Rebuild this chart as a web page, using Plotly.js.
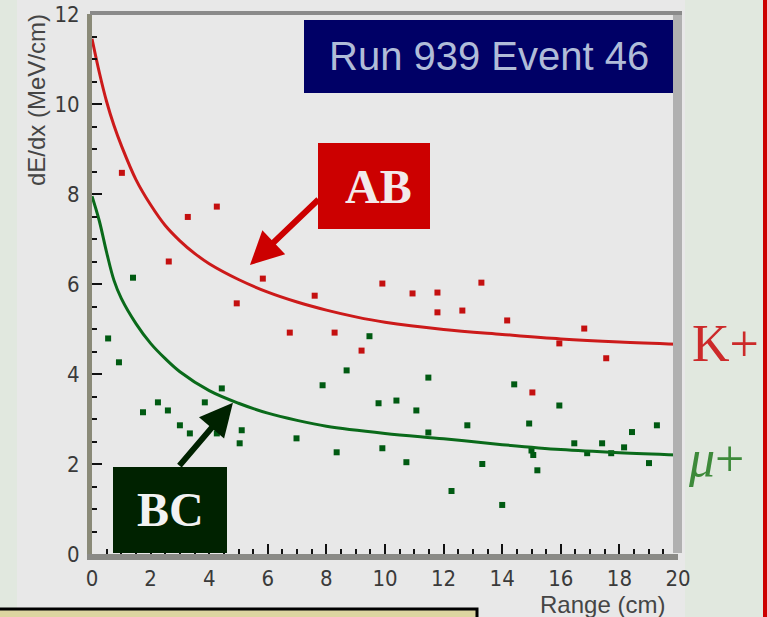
<!DOCTYPE html>
<html>
<head>
<meta charset="utf-8">
<script src="https://cdn.plot.ly/plotly-3.0.1.min.js"></script>
<style>
  html, body { margin: 0; padding: 0; background: #e8e8e8; overflow: hidden; }
  #chart { width: 767px; height: 617px; }
  #chart .xtick text, #chart .ytick text { font-stretch: condensed; }
</style>
</head>
<body>
<div id="chart"></div>
<script>
// Hits attributed to the K+ track: range (cm) and dE/dx (MeV/cm)
const kRange = [1.02, 2.62, 3.27, 4.26, 4.94, 5.83, 6.75, 7.6, 8.28, 9.2, 9.91, 10.94, 11.79, 11.79, 12.64, 13.29, 14.17, 15.03, 15.95, 16.8, 17.55];
const kDedx  = [8.47, 6.5, 7.49, 7.72, 5.57, 6.12, 4.92, 5.74, 4.92, 4.52, 6.01, 5.79, 5.81, 5.37, 5.41, 6.03, 5.19, 3.59, 4.68, 5.01, 4.35];

// Hits attributed to the mu+ track
const muRange = [0.55, 0.92, 1.4, 1.74, 2.25, 2.59, 3.0, 3.34, 3.85, 4.26, 4.43, 5.04, 5.11, 6.98, 7.87, 8.35, 8.69, 9.47, 9.78, 9.91, 10.39, 10.73, 11.07, 11.48, 11.48, 12.27, 12.81, 13.32, 14.0, 14.41, 14.92, 15.0, 15.06, 15.2, 15.95, 16.46, 16.9, 17.41, 17.72, 18.16, 18.43, 19.01, 19.28];
const muDedx  = [4.79, 4.26, 6.14, 3.15, 3.37, 3.19, 2.86, 2.68, 3.37, 2.68, 3.68, 2.46, 2.75, 2.57, 3.75, 2.26, 4.08, 4.84, 3.35, 2.35, 3.41, 2.04, 3.19, 3.92, 2.7, 1.4, 2.86, 2.0, 1.09, 3.77, 2.9, 2.3, 2.2, 1.86, 3.3, 2.46, 2.24, 2.46, 2.24, 2.37, 2.71, 2.02, 2.86];

// Expected dE/dx versus residual range for each particle hypothesis
const kCurveRange = [0, 0.25, 0.5, 0.75, 1, 1.5, 2, 2.5, 3, 3.5, 4, 5, 6, 7, 8, 9, 10, 12, 14, 16, 18, 20];
const kCurveDedx  = [11.45, 10.7, 10.05, 9.52, 9.08, 8.32, 7.76, 7.3, 6.96, 6.68, 6.45, 6.1, 5.82, 5.6, 5.42, 5.27, 5.15, 4.99, 4.88, 4.78, 4.71, 4.66];
const muCurveRange = [0, 0.25, 0.5, 0.75, 1, 1.5, 2, 2.5, 3, 4, 5, 6, 7, 8, 10, 12, 14, 16, 18, 20];
const muCurveDedx  = [7.95, 7.4, 6.7, 6.08, 5.68, 5.12, 4.68, 4.34, 4.05, 3.63, 3.35, 3.13, 2.97, 2.84, 2.68, 2.56, 2.43, 2.32, 2.25, 2.2];

// Axis ticks
const xTickVals = [0, 2, 4, 6, 8, 10, 12, 14, 16, 18, 20];
const yTickVals = [0, 2, 4, 6, 8, 10, 12];

// Canvas geometry of the frame (pixels) and a helper to go to paper units
const L = 92, T = 14, W = 586, H = 540;
const px = x => (x - L) / W;
const py = y => (T + H - y) / H;

const tickFont = { family: 'DejaVu Sans, Liberation Sans, Arial, sans-serif', size: 22, color: '#3a3a3a' };
const titleFont = { family: 'Liberation Sans, Arial, sans-serif', size: 24, color: '#454545' };
const serif = 'Liberation Serif, Times New Roman, DejaVu Serif, serif';

const traces = [
  { x: kRange, y: kDedx, type: 'scatter', mode: 'markers',
    marker: { symbol: 'square', size: 6, color: '#c41010' }, hoverinfo: 'x+y' },
  { x: muRange, y: muDedx, type: 'scatter', mode: 'markers',
    marker: { symbol: 'square', size: 6, color: '#005a12' }, hoverinfo: 'x+y' },
  { x: kCurveRange, y: kCurveDedx, type: 'scatter', mode: 'lines',
    line: { color: '#cc1a1a', width: 3, shape: 'spline', smoothing: 1 }, hoverinfo: 'skip' },
  { x: muCurveRange, y: muCurveDedx, type: 'scatter', mode: 'lines',
    line: { color: '#0a6a1a', width: 3, shape: 'spline', smoothing: 1 }, hoverinfo: 'skip' }
];

const layout = {
  width: 767, height: 617,
  margin: { l: L, r: 767 - L - W, t: T, b: 617 - T - H, pad: 0 },
  paper_bgcolor: '#e8e8e8',
  plot_bgcolor: '#e8e8e8',
  showlegend: false,
  xaxis: {
    range: [0, 20], tickvals: xTickVals, ticktext: xTickVals.map(String),
    ticks: 'inside', ticklen: 10, tickwidth: 2, tickcolor: '#111111',
    minor: { dtick: 0.5, ticks: 'inside', ticklen: 5, tickwidth: 2, tickcolor: '#111111' },
    showline: true, linecolor: '#8a8a86', linewidth: 6,
    showgrid: false, zeroline: false, tickfont: tickFont, ticklabelstandoff: 0, fixedrange: true
  },
  yaxis: {
    range: [0, 12], tickvals: yTickVals, ticktext: yTickVals.map(String),
    ticks: 'inside', ticklen: 10, tickwidth: 2, tickcolor: '#111111',
    minor: { dtick: 0.5, ticks: 'inside', ticklen: 5, tickwidth: 2, tickcolor: '#111111' },
    showline: true, linecolor: '#8a8a78', linewidth: 5,
    showgrid: false, zeroline: false, tickfont: tickFont, ticklabelstandoff: 3, fixedrange: true
  },
  shapes: [
    // dotted side bands of the canvas
    { type: 'rect', xref: 'paper', yref: 'paper', x0: px(0), x1: px(17), y0: py(617), y1: py(0),
      fillcolor: '#e1e8df', line: { width: 0 }, layer: 'below' },
    { type: 'rect', xref: 'paper', yref: 'paper', x0: px(685), x1: px(763), y0: py(617), y1: py(0),
      fillcolor: '#e1e8df', line: { width: 0 }, layer: 'below' },
    // red edge at the right of the canvas
    { type: 'rect', xref: 'paper', yref: 'paper', x0: px(763), x1: px(767), y0: py(617), y1: py(0),
      fillcolor: '#cc0000', line: { width: 0 } },
    // frame: top and right borders
    { type: 'rect', xref: 'paper', yref: 'paper', x0: px(90), x1: px(682), y0: py(15), y1: py(11),
      fillcolor: '#8a8a8a', line: { width: 0 } },
    { type: 'rect', xref: 'paper', yref: 'paper', x0: px(673), x1: px(682), y0: py(553), y1: py(15),
      fillcolor: '#b0b0b0', line: { width: 0 } },
    // title box
    { type: 'rect', xref: 'paper', yref: 'paper', x0: px(304), x1: px(673), y0: py(93), y1: py(20),
      fillcolor: '#000066', line: { width: 0 } },
    // label boxes
    { type: 'rect', xref: 'paper', yref: 'paper', x0: px(318), x1: px(430), y0: py(229), y1: py(143),
      fillcolor: '#cc0000', line: { width: 0 } },
    { type: 'rect', xref: 'paper', yref: 'paper', x0: px(113), x1: px(227), y0: py(553), y1: py(467),
      fillcolor: '#002200', line: { width: 0 } },
    // note box at the bottom left
    { type: 'rect', xref: 'paper', yref: 'paper', x0: px(-2), x1: px(477), y0: py(625), y1: py(609),
      fillcolor: '#ddd5a0', line: { color: '#000000', width: 3 } }
  ],
  annotations: [
    { xref: 'paper', yref: 'paper', x: px(488.5), y: py(56), xanchor: 'center', yanchor: 'middle',
      text: 'Run 939 Event 46', showarrow: false,
      font: { family: 'Liberation Sans, Arial, sans-serif', size: 40, color: '#b0bcd8' } },
    { xref: 'paper', yref: 'paper', x: px(378), y: py(186), xanchor: 'center', yanchor: 'middle',
      text: '<b>AB</b>', showarrow: false, font: { family: serif, size: 48, color: '#f2eaea' } },
    { xref: 'paper', yref: 'paper', x: px(170), y: py(509), xanchor: 'center', yanchor: 'middle',
      text: '<b>BC</b>', showarrow: false, font: { family: serif, size: 48, color: '#f2f2f2' } },
    // arrows from the label boxes to the curves
    { x: 5.39, y: 6.42, ax: 7.78, ay: 7.91, xref: 'x', yref: 'y', axref: 'x', ayref: 'y',
      text: '', showarrow: true, arrowhead: 2, arrowsize: 1.1, arrowwidth: 6, arrowcolor: '#cc0000', standoff: 0 },
    { x: 4.81, y: 3.36, ax: 2.94, ay: 1.93, xref: 'x', yref: 'y', axref: 'x', ayref: 'y',
      text: '', showarrow: true, arrowhead: 2, arrowsize: 1.1, arrowwidth: 6, arrowcolor: '#002200', standoff: 0 },
    // particle hypotheses
    { xref: 'paper', yref: 'paper', x: px(690), y: py(343), xanchor: 'left', yanchor: 'middle',
      text: 'K+', showarrow: false, font: { family: serif, size: 52, color: '#cc2a2a' } },
    { xref: 'paper', yref: 'paper', x: px(686), y: py(458), xanchor: 'left', yanchor: 'middle',
      text: '<i>μ</i>+', showarrow: false, font: { family: serif, size: 52, color: '#3d8a3a' } },
    // axis titles
    { xref: 'paper', yref: 'paper', x: px(667), y: py(589), xanchor: 'right', yanchor: 'top',
      text: 'Range (cm)', showarrow: false, font: titleFont },
    { xref: 'paper', yref: 'paper', x: px(37), y: py(12), xanchor: 'center', yanchor: 'top', textangle: -90,
      text: 'dE/dx (MeV/cm)', showarrow: false, font: titleFont }
  ]
};

Plotly.newPlot('chart', traces, layout, { staticPlot: true, displayModeBar: false });
</script>
</body>
</html>
